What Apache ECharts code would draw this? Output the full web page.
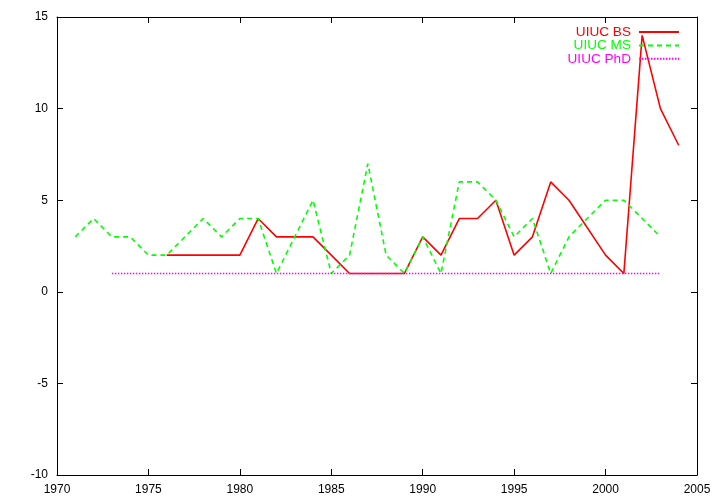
<!DOCTYPE html>
<html>
<head>
<meta charset="utf-8">
<script src="https://cdn.jsdelivr.net/npm/echarts@6/dist/echarts.min.js"></script>
<style>html,body{margin:0;padding:0;background:#fff}#c{width:720px;height:504px}</style>
</head>
<body>
<div id="c"></div>
<script>
var seriesNames = ['UIUC BS', 'UIUC MS', 'UIUC PhD'];
var bsYears = [1976,1977,1978,1979,1980,1981,1982,1983,1984,1985,1986,1987,1988,1989,1990,1991,1992,1993,1994,1995,1996,1997,1998,2000,2001,2002,2003,2004];
var bsValues = [2,2,2,2,2,4,3,3,3,2,1,1,1,1,3,2,4,4,5,2,3,6,5,2,1,14,10,8];
var msYears = [1971,1972,1973,1974,1975,1976,1977,1978,1979,1980,1981,1982,1983,1984,1985,1986,1987,1988,1989,1990,1991,1992,1993,1994,1995,1996,1997,1998,1999,2000,2001,2002,2003];
var msValues = [3,4,3,3,2,2,3,4,3,4,4,1,3,5,1,2,7,2,1,3,1,6,6,5,3,4,1,3,4,5,5,4,3];
var phdYears = [1973,1974,1975,1976,1977,1978,1979,1980,1981,1982,1983,1984,1985,1986,1987,1988,1989,1990,1991,1992,1993,1994,1995,1996,1997,1998,1999,2000,2001,2002,2003];
var phdValues = [1,1,1,1,1,1,1,1,1,1,1,1,1,1,1,1,1,1,1,1,1,1,1,1,1,1,1,1,1,1,1];
var xTicks = {min: 1970, max: 2005, interval: 5};
var yTicks = {min: -10, max: 15, interval: 5};
var colors = ['#ff0000', '#00ff00', '#ff00ff'];

function pairs(xs, ys){ return xs.map(function(x,i){ return [x, ys[i]]; }); }

var FONT = 'Liberation Sans';
var chart = echarts.init(document.getElementById('c'), null, {renderer: 'canvas'});
var axisCommon = {
  axisLine: {show: true, onZero: false, lineStyle: {color: '#000', width: 1}},
  axisTick: {show: true, inside: true, length: 6, lineStyle: {color: '#000'}},
  splitLine: {show: false}
};
chart.setOption({
  animation: false,
  backgroundColor: '#fff',
  textStyle: {fontFamily: FONT},
  grid: {left: 57, right: 23, top: 17, bottom: 29, containLabel: false},
  legend: {
    orient: 'vertical', right: 35, top: 20, align: 'right',
    itemWidth: 40, itemHeight: 10, itemGap: -0.6,
    itemStyle: {opacity: 0},
    data: [
      {name: seriesNames[0], textStyle: {color: colors[0]}},
      {name: seriesNames[1], textStyle: {color: colors[1]}},
      {name: seriesNames[2], textStyle: {color: colors[2]}}
    ],
    textStyle: {fontFamily: FONT, fontSize: 13.6, lineHeight: 13, padding: [0, 3, 0, 0]}
  },
  xAxis: [
    Object.assign({type: 'value', position: 'bottom', min: xTicks.min, max: xTicks.max, interval: xTicks.interval,
      axisLabel: {color: '#000', fontSize: 12, fontFamily: FONT, margin: 9, formatter: function(v){ return String(v); }}}, axisCommon),
    Object.assign({type: 'value', position: 'top', min: xTicks.min, max: xTicks.max, interval: xTicks.interval,
      axisLabel: {show: false}}, axisCommon)
  ],
  yAxis: [
    Object.assign({type: 'value', position: 'left', min: yTicks.min, max: yTicks.max, interval: yTicks.interval,
      axisLabel: {color: '#000', fontSize: 12, fontFamily: FONT, margin: 9}}, axisCommon),
    Object.assign({type: 'value', position: 'right', min: yTicks.min, max: yTicks.max, interval: yTicks.interval,
      axisLabel: {show: false}}, axisCommon)
  ],
  series: [
    {name: seriesNames[0], type: 'line', data: pairs(bsYears, bsValues), symbol: 'none', color: colors[0],
      lineStyle: {width: 1.6, color: colors[0]}},
    {name: seriesNames[1], type: 'line', data: pairs(msYears, msValues), symbol: 'none', color: colors[1],
      lineStyle: {width: 1.6, color: colors[1], type: [5, 4]}},
    {name: seriesNames[2], type: 'line', data: pairs(phdYears, phdValues), symbol: 'none', color: colors[2],
      lineStyle: {width: 1.4, color: colors[2], type: [1.5, 1.5]}}
  ]
});
</script>
</body>
</html>
